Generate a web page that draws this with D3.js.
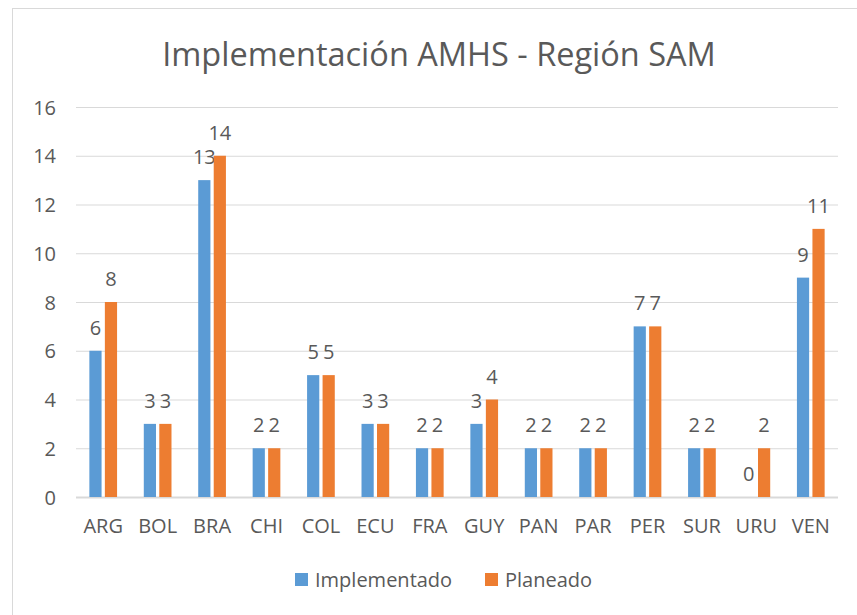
<!DOCTYPE html>
<html><head><meta charset="utf-8">
<script src="https://cdn.jsdelivr.net/npm/d3@7"></script>
<style>body{margin:0;background:#fff}svg{display:block}text{font-family:"Open Sans","Noto Sans",sans-serif;fill:#595959}</style>
</head><body>
<svg id="c" width="857" height="615"></svg>
<script>
const categories = ["ARG","BOL","BRA","CHI","COL","ECU","FRA","GUY","PAN","PAR","PER","SUR","URU","VEN"];
const implementado = [6,3,13,2,5,3,2,3,2,2,7,2,0,9];
const planeado = [8,3,14,2,5,3,2,4,2,2,7,2,2,11];
const seriesNames = ["Implementado","Planeado"];
const yTicks = [0,2,4,6,8,10,12,14,16];
const colors = ["#5B9BD5","#ED7D31"];

const svg = d3.select("#c");
svg.append("rect").attr("x",12.5).attr("y",8.5).attr("width",900).attr("height",700)
  .attr("fill","#fff").attr("stroke","#d9d9d9").attr("stroke-width",1);

const L=76,R=838,T=107,B=497;
const x = d3.scaleBand().domain(categories).range([L,R]).paddingInner(0).paddingOuter(0);
const y = d3.scaleLinear().domain([0,16]).range([B,T]);
const w = x.bandwidth()/(2+0.27+2.19);
const gap = w*0.27;

svg.append("text").attr("x",439).attr("y",66).attr("text-anchor","middle")
  .attr("font-size",32.5).text("Implementación AMHS - Región SAM");

const gy = svg.append("g").attr("transform",`translate(${L},0)`)
  .call(d3.axisLeft(y).tickValues(yTicks).tickSize(-(R-L)).tickFormat(d3.format("d")));
gy.select(".domain").remove();
gy.selectAll(".tick line").attr("stroke","#d9d9d9").attr("stroke-width",1);
gy.selectAll(".tick text").attr("x",-20).attr("font-size",20).attr("fill","#595959").attr("dy","0.36em");
gy.selectAll(".tick").filter(d=>d===0).select("line").attr("stroke-width",2);

const data = categories.map((c,i)=>({c, v:[implementado[i],planeado[i]]}));
const groups = svg.append("g").selectAll("g").data(data).join("g")
  .attr("transform",d=>`translate(${x(d.c)+x.bandwidth()/2},0)`);
[0,1].forEach(s=>{
  const off = s===0 ? -gap/2 - w : gap/2;
  groups.append("rect").attr("x",off).attr("width",w)
    .attr("y",d=>y(d.v[s])).attr("height",d=>B-y(d.v[s])).attr("fill",colors[s]);
  groups.append("text").attr("x",off+w/2).attr("y",d=>y(d.v[s])-16)
    .attr("text-anchor","middle").attr("font-size",20).attr("fill","#404040").text(d=>d.v[s]);
});

const gx = svg.append("g").attr("transform",`translate(0,${B})`)
  .call(d3.axisBottom(x).tickSize(0).tickPadding(22));
gx.select(".domain").remove();
gx.selectAll(".tick text").attr("font-size",20).attr("fill","#595959").attr("dy","0.71em");

const leg = [{x:295,name:seriesNames[0],c:colors[0]},{x:485,name:seriesNames[1],c:colors[1]}];
const lg = svg.append("g").selectAll("g").data(leg).join("g");
lg.append("rect").attr("x",d=>d.x).attr("y",573).attr("width",13).attr("height",13).attr("fill",d=>d.c);
lg.append("text").attr("x",d=>d.x+20).attr("y",587).attr("font-size",20).text(d=>d.name);
</script>
</body></html>
